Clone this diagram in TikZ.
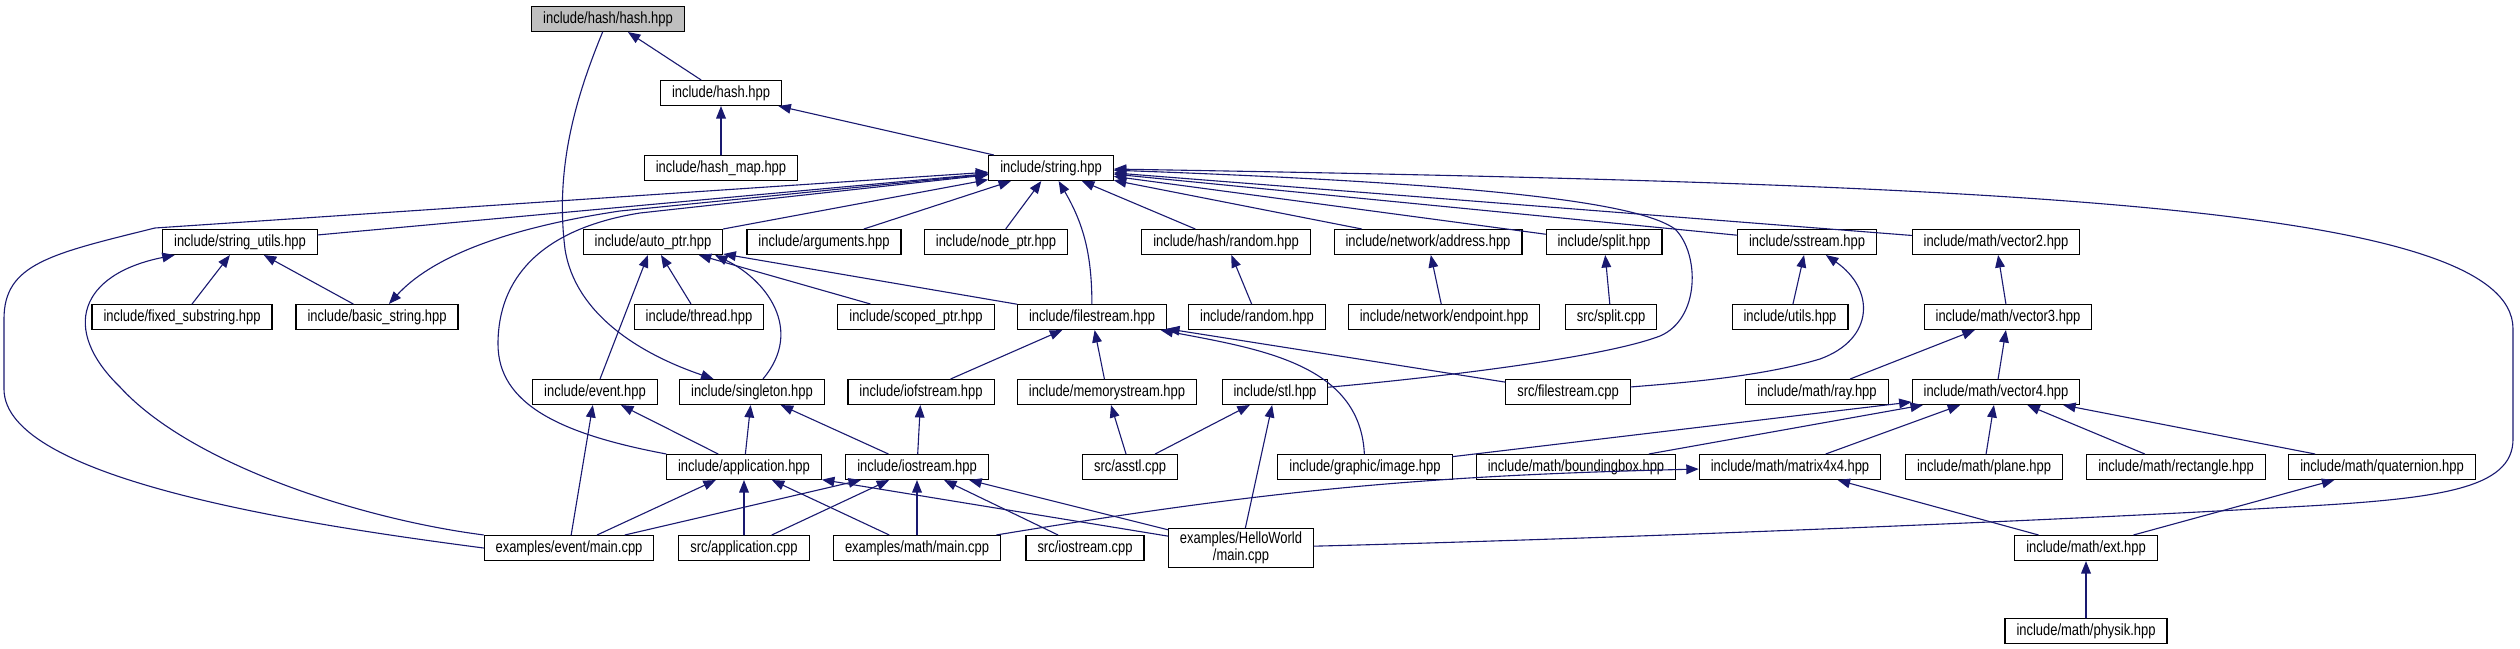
\documentclass[tikz,border=0pt]{standalone}
\usepackage{fontspec}
\setmainfont[FakeStretch=0.8]{Liberation Sans}
\usetikzlibrary{arrows.meta}
\definecolor{depblue}{RGB}{25,25,112}
\definecolor{rootgray}{RGB}{191,191,191}

\begin{document}
\begin{tikzpicture}[x=1in,y=1in,line cap=round,
  file/.style={draw=black,line width=0.8pt,fill=white,minimum height=0.25in,inner xsep=0.115in,inner ysep=0pt,font=\fontsize{11.7}{12}\selectfont},
  root/.style={file,fill=rootgray},
  dep/.style={draw=depblue,line width=0.8pt,{Triangle[length=9pt,width=7pt]}-},
  deprev/.style={draw=depblue,line width=0.8pt,-{Triangle[length=9pt,width=7pt]}}]
\path[use as bounding box] (0,0) rectangle (25.2,6.49);
\node[root] (hashhash) at (6.0800,6.3000) {include/hash/hash.hpp};
\node[file] (hash) at (7.2100,5.5600) {include/hash.hpp};
\node[file] (hashmap) at (7.2100,4.8100) {include/hash\_map.hpp};
\node[file] (string) at (10.5100,4.8100) {include/string.hpp};
\node[file] (sutils) at (2.4000,4.0700) {include/string\_utils.hpp};
\node[file] (autoptr) at (6.5300,4.0700) {include/auto\_ptr.hpp};
\node[file] (arguments) at (8.2400,4.0700) {include/arguments.hpp};
\node[file] (nodeptr) at (9.9600,4.0700) {include/node\_ptr.hpp};
\node[file] (hrandom) at (12.2600,4.0700) {include/hash/random.hpp};
\node[file] (address) at (14.2800,4.0700) {include/network/address.hpp};
\node[file] (split) at (16.0400,4.0700) {include/split.hpp};
\node[file] (sstream) at (18.0700,4.0700) {include/sstream.hpp};
\node[file] (vectwo) at (19.9600,4.0700) {include/math/vector2.hpp};
\node[file] (fixedsub) at (1.8200,3.3200) {include/fixed\_substring.hpp};
\node[file] (basicstr) at (3.7700,3.3200) {include/basic\_string.hpp};
\node[file] (thread) at (6.9900,3.3200) {include/thread.hpp};
\node[file] (scoped) at (9.1600,3.3200) {include/scoped\_ptr.hpp};
\node[file] (fstream) at (10.9200,3.3200) {include/filestream.hpp};
\node[file] (random) at (12.5700,3.3200) {include/random.hpp};
\node[file] (endpoint) at (14.4400,3.3200) {include/network/endpoint.hpp};
\node[file] (splitcpp) at (16.1100,3.3200) {src/split.cpp};
\node[file] (utils) at (17.9000,3.3200) {include/utils.hpp};
\node[file] (vecthree) at (20.0800,3.3200) {include/math/vector3.hpp};
\node[file] (event) at (5.9500,2.5700) {include/event.hpp};
\node[file] (singleton) at (7.5200,2.5700) {include/singleton.hpp};
\node[file] (iofstream) at (9.2100,2.5700) {include/iofstream.hpp};
\node[file] (memstream) at (11.0700,2.5700) {include/memorystream.hpp};
\node[file] (stl) at (12.7500,2.5700) {include/stl.hpp};
\node[file] (fstreamcpp) at (15.6800,2.5700) {src/filestream.cpp};
\node[file] (ray) at (18.1700,2.5700) {include/math/ray.hpp};
\node[file] (vecfour) at (19.9600,2.5700) {include/math/vector4.hpp};
\node[file] (application) at (7.4400,1.8200) {include/application.hpp};
\node[file] (iostream) at (9.1700,1.8200) {include/iostream.hpp};
\node[file] (asstl) at (11.3000,1.8200) {src/asstl.cpp};
\node[file] (image) at (13.6500,1.8200) {include/graphic/image.hpp};
\node[file] (bbox) at (15.7600,1.8200) {include/math/boundingbox.hpp};
\node[file] (matrix) at (17.9000,1.8200) {include/math/matrix4x4.hpp};
\node[file] (plane) at (19.8400,1.8200) {include/math/plane.hpp};
\node[file] (rectangle) at (21.7600,1.8200) {include/math/rectangle.hpp};
\node[file] (quaternion) at (23.8200,1.8200) {include/math/quaternion.hpp};
\node[file] (evmain) at (5.6900,1.0100) {examples/event/main.cpp};
\node[file] (appcpp) at (7.4400,1.0100) {src/application.cpp};
\node[file] (mathmain) at (9.1700,1.0100) {examples/math/main.cpp};
\node[file] (iostreamcpp) at (10.8500,1.0100) {src/iostream.cpp};
\node[file,minimum height=0.39in,align=center] (hello) at (12.4100,1.0100) {examples/HelloWorld\\/main.cpp};
\node[file] (ext) at (20.8600,1.0100) {include/math/ext.hpp};
\node[file] (physik) at (20.8600,0.1800) {include/math/physik.hpp};
\draw[dep] (hashhash) -- (hash);
\draw[dep] (hash) -- (hashmap);
\draw[dep] (hash) -- (string);
\draw[deprev] (hashhash) .. controls (5.75,5.50) and (5.55,4.80) .. (5.65,4.00) .. controls (5.75,3.35) and (6.40,2.95) .. (singleton);
\draw[dep] (string) -- (sutils);
\draw[dep] (string) -- (autoptr);
\draw[dep] (string) -- (arguments);
\draw[dep] (string) -- (nodeptr);
\draw[dep] (string) -- (hrandom);
\draw[dep] (string) -- (address);
\draw[dep] (string) -- (split);
\draw[dep] (string) -- (sstream);
\draw[dep] (string) -- (vectwo);
\draw[dep] (string) to[bend left=15] (fstream);
\draw[deprev] (string) -- (6.20,4.38) .. controls (5.00,4.20) and (4.30,3.90) .. (basicstr);
\draw[dep] (string) -- (1.55,4.21) .. controls (0.50,3.95) and (0.04,3.85) .. (0.04,3.30) -- (0.04,2.60) .. controls (0.04,1.70) and (3.00,1.25) .. (evmain.west);
\draw[dep] (string) -- (6.40,4.36) .. controls (5.40,4.20) and (4.98,3.70) .. (4.98,3.05) .. controls (4.98,2.45) and (5.60,2.15) .. (application.north west);
\draw[dep] (string) .. controls (15.00,4.65) and (16.40,4.45) .. (16.75,4.20) .. controls (17.00,3.95) and (17.00,3.30) .. (16.60,3.13) .. controls (16.00,2.90) and (14.20,2.70) .. (stl);
\draw[dep] (string) .. controls (20.00,4.65) and (25.13,4.45) .. (25.13,3.20) -- (25.13,2.10) .. controls (25.13,1.60) and (24.40,1.50) .. (22.90,1.42) .. controls (20.50,1.28) and (16.00,1.10) .. (hello);
\draw[dep] (sutils) -- (fixedsub);
\draw[dep] (sutils) -- (basicstr);
\draw[dep] (sutils) .. controls (0.80,3.75) and (0.60,3.20) .. (1.20,2.62) .. controls (1.90,1.85) and (3.60,1.30) .. (evmain.north west);
\draw[dep] (autoptr) -- (event);
\draw[dep] (autoptr) -- (thread);
\draw[dep] ([xshift=-6pt]autoptr.south east) .. controls (7.65,3.70) and (8.05,3.20) .. (singleton);
\draw[dep] (autoptr) -- (scoped);
\draw[dep] (autoptr) -- (fstream);
\draw[dep] (hrandom) -- (random);
\draw[dep] (address) -- (endpoint);
\draw[dep] (split) -- (splitcpp);
\draw[dep] (sstream) -- (utils);
\draw[dep] (sstream) .. controls (18.75,3.60) and (18.75,3.10) .. (18.20,2.90) .. controls (17.60,2.72) and (16.80,2.66) .. (fstreamcpp);
\draw[dep] (vectwo) -- (vecthree);
\draw[dep] (fstream) -- (iofstream);
\draw[dep] (fstream) -- (memstream);
\draw[dep] (fstream) -- (fstreamcpp);
\draw[dep] (fstream) .. controls (12.60,3.00) and (13.60,2.85) .. (image);
\draw[dep] (vecthree) -- (ray);
\draw[dep] (vecthree) -- (vecfour);
\draw[dep] (event) -- (application);
\draw[dep] (event) -- (evmain);
\draw[dep] (singleton) -- (application);
\draw[dep] (singleton) -- (iostream);
\draw[dep] (iofstream) -- (iostream);
\draw[dep] (memstream) -- (asstl);
\draw[dep] (stl) -- (asstl);
\draw[dep] (stl) -- (hello);
\draw[dep] (vecfour) -- (image);
\draw[dep] (vecfour) -- (bbox);
\draw[dep] (vecfour) -- (matrix);
\draw[dep] (vecfour) -- (plane);
\draw[dep] (vecfour) -- (rectangle);
\draw[dep] (vecfour) -- (quaternion);
\draw[dep] (application) -- (evmain);
\draw[dep] (application) -- (appcpp);
\draw[dep] (application) -- (mathmain);
\draw[dep] (application) -- (hello);
\draw[dep] (iostream) -- (evmain);
\draw[dep] (iostream) -- (appcpp);
\draw[dep] (iostream) -- (mathmain);
\draw[dep] (iostream) -- (iostreamcpp);
\draw[dep] (iostream) -- (hello);
\draw[dep] (matrix) to[bend right=4] (mathmain);
\draw[dep] (matrix) -- (ext);
\draw[dep] (quaternion) -- (ext);
\draw[dep] (ext) -- (physik);
\end{tikzpicture}
\end{document}
